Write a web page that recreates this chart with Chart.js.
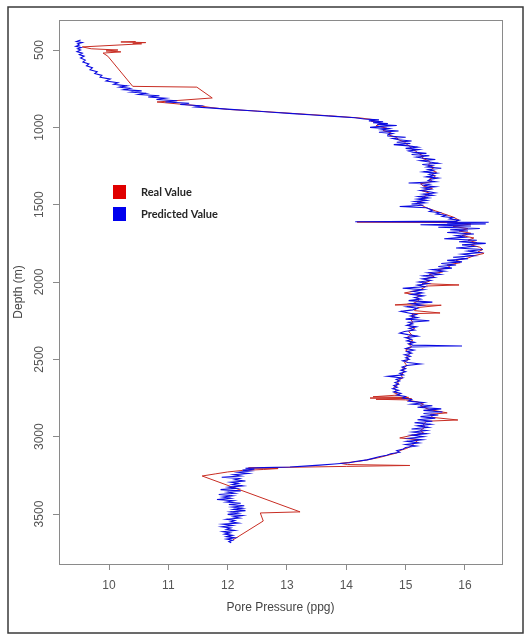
<!DOCTYPE html>
<html><head><meta charset="utf-8">
<script src="https://cdn.jsdelivr.net/npm/chart.js@4.4.1/dist/chart.umd.min.js"></script>
<style>html,body{margin:0;padding:0;background:#fff;}canvas{display:block;}</style>
</head><body>
<canvas id="c" width="530" height="635" style="width:530px;height:635px"></canvas>
<script>
// ---- data ----
const seriesLabels = ['Real Value', 'Predicted Value'];
const xTickValues = [10, 11, 12, 13, 14, 15, 16];
const yTickValues = [500, 1000, 1500, 2000, 2500, 3000, 3500];
const xTitle = 'Pore Pressure (ppg)';
const yTitle = 'Depth (m)';

const predDepth = [
 435,445,452,460,468,476,484,492,500,510,
 520,530,540,552,565,578,590,602,615,628,
 640,652,664,676,688,700,712,722,732,740,
 748,756,764,772,780,788,796,804,812,820,
 828,836,844,852,860,868,876,884,893,902,
 911,920,929,938,946,952,958,964,970,976,
 982,988,994,1000,1008,1016,1024,1032,1040,1048,
 1056,1064,1072,1080,1088,1096,1104,1112,1120,1128,
 1136,1144,1152,1160,1168,1176,1184,1192,1200,1208,
 1216,1224,1232,1240,1248,1256,1264,1272,1280,1288,
 1296,1304,1312,1320,1328,1336,1344,1352,1360,1368,
 1376,1384,1392,1400,1408,1416,1424,1432,1440,1448,
 1456,1464,1472,1480,1488,1496,1504,1512,1520,1528,
 1536,1544,1552,1560,1568,1576,1584,1592,1600,1606,
 1610,1614,1618,1624,1630,1638,1646,1654,1662,1670,
 1680,1690,1700,1710,1720,1730,1740,1750,1760,1770,
 1780,1790,1800,1810,1820,1830,1840,1850,1860,1870,
 1880,1890,1900,1910,1920,1930,1940,1950,1960,1970,
 1980,1990,2000,2010,2020,2030,2040,2050,2060,2070,
 2080,2090,2100,2110,2120,2130,2140,2150,2160,2170,
 2180,2190,2200,2210,2220,2230,2240,2250,2260,2270,
 2280,2290,2300,2310,2320,2330,2340,2350,2360,2370,
 2380,2390,2400,2408,2414,2420,2430,2440,2450,2460,
 2470,2480,2490,2500,2510,2520,2530,2540,2550,2560,
 2570,2580,2590,2600,2610,2620,2630,2640,2650,2660,
 2670,2680,2690,2700,2710,2720,2730,2740,2750,2760,
 2770,2780,2790,2800,2810,2820,2830,2840,2850,2860,
 2870,2880,2890,2900,2910,2920,2930,2940,2950,2960,
 2970,2980,2990,3000,3010,3020,3030,3040,3050,3060,
 3070,3080,3090,3100,3110,3120,3130,3140,3150,3160,
 3168,3176,3184,3190,3196,3200,3204,3210,3216,3222,
 3230,3238,3246,3254,3262,3270,3278,3286,3294,3302,
 3310,3318,3326,3334,3342,3350,3358,3366,3374,3382,
 3390,3398,3406,3414,3422,3430,3438,3446,3454,3462,
 3470,3478,3486,3494,3502,3510,3518,3526,3534,3542,
 3550,3558,3566,3574,3582,3590,3598,3606,3614,3622,
 3630,3638,3646,3654,3662,3670,3678,3686
];
const predPressure = [
 9.52,9.45,9.55,9.47,9.50,9.44,9.53,9.47,9.52,9.46,
 9.55,9.50,9.58,9.52,9.60,9.56,9.66,9.62,9.72,9.68,
 9.80,9.76,9.88,9.85,10.02,9.95,10.15,10.08,10.30,10.18,
 10.35,10.25,10.55,10.38,10.62,10.50,10.85,10.66,10.95,10.80,
 11.15,10.95,11.35,11.20,11.55,11.45,11.75,12.05,12.40,12.75,
 13.10,13.45,13.80,14.15,14.30,14.55,14.38,14.62,14.45,14.70,
 14.52,14.85,14.58,14.40,14.72,14.60,14.88,14.55,14.78,14.70,
 14.70,15.00,14.78,14.88,15.10,14.85,15.08,14.80,15.05,15.20,
 15.00,15.22,15.05,15.12,15.35,15.10,15.40,15.18,15.30,15.50,
 15.25,15.40,15.55,15.28,15.45,15.36,15.60,15.38,15.46,15.30,
 15.52,15.40,15.48,15.35,15.55,15.42,15.38,15.50,15.05,15.40,
 15.32,15.50,15.30,15.42,15.25,15.40,15.50,15.30,15.45,15.22,
 15.38,15.20,15.35,15.15,15.32,15.10,15.30,14.90,15.35,15.40,
 15.45,15.40,15.58,15.52,15.68,15.62,15.80,15.74,15.90,15.85,
 14.15,16.40,15.70,16.35,15.25,16.10,15.55,16.25,15.75,16.05,
 15.70,16.15,15.85,16.00,15.65,16.20,15.90,16.35,15.95,16.15,
 15.85,16.30,16.05,16.25,15.95,16.15,15.80,16.05,15.70,15.95,
 15.60,15.85,15.55,15.78,15.45,15.65,15.38,15.58,15.30,15.48,
 15.28,15.42,15.22,15.38,15.20,15.32,14.95,15.30,15.12,15.28,
 15.10,15.30,15.15,15.25,15.05,15.45,15.10,15.28,15.02,15.20,
 15.12,14.92,15.05,15.18,15.08,15.20,15.00,15.40,15.05,15.12,
 15.02,15.18,15.06,15.15,14.98,14.90,15.04,15.20,15.00,15.10,
 15.02,15.15,15.05,15.12,15.95,15.08,15.00,15.14,15.02,15.10,
 14.98,15.08,15.00,15.06,14.95,15.04,15.25,15.02,14.94,15.00,
 14.92,15.00,14.90,14.96,14.70,14.94,14.84,14.90,14.82,14.88,
 14.80,14.86,14.78,14.88,14.80,14.92,14.85,15.00,14.95,15.10,
 15.05,15.30,15.10,15.45,15.20,15.60,15.30,15.62,15.30,15.55,
 15.25,15.50,15.20,15.45,15.15,15.42,15.20,15.38,15.10,15.35,
 15.12,15.35,15.10,15.30,15.05,15.28,15.02,15.22,15.00,15.18,
 15.00,14.96,14.85,14.90,14.75,14.68,14.55,14.45,14.35,14.15,
 14.05,13.80,13.55,13.30,13.05,12.60,12.30,12.45,12.25,12.38,
 12.18,12.35,12.10,12.22,11.90,12.20,12.12,12.30,12.05,12.18,
 12.08,12.25,12.02,12.15,11.88,12.22,12.00,12.12,11.85,12.08,
 11.92,12.05,11.82,12.10,11.98,12.22,12.02,12.28,12.08,12.25,
 12.10,12.30,12.05,12.18,12.00,12.25,12.10,12.20,11.98,12.12,
 12.05,12.18,11.92,12.08,11.90,12.05,11.98,12.12,11.92,12.04,
 11.95,12.08,11.98,12.12,11.98,12.08,12.02,12.06
];

const realDepth = [
 445,448,452,456,460,480,492,500,506,512,
 520,540,735,740,810,836,850,860,872,884,
 895,910,925,940,950,960,975,990,1005,1020,
 1035,1050,1065,1080,1095,1110,1125,1140,1155,1170,
 1185,1200,1215,1230,1245,1260,1275,1290,1305,1320,
 1335,1350,1365,1380,1395,1410,1425,1440,1455,1470,
 1485,1500,1520,1540,1560,1580,1600,1608,1612,1616,
 1625,1640,1655,1670,1685,1700,1715,1730,1745,1760,
 1775,1790,1805,1815,1830,1845,1860,1875,1890,1905,
 1920,1935,1950,1965,1980,1995,2010,2019,2026,2050,
 2071,2085,2100,2120,2140,2148,2150,2165,2185,2200,
 2205,2220,2240,2260,2280,2300,2320,2340,2360,2380,
 2400,2420,2440,2460,2480,2500,2520,2540,2560,2580,
 2600,2620,2640,2660,2680,2700,2715,2730,2742,2746,
 2750,2754,2758,2762,2775,2790,2800,2825,2846,2855,
 2875,2892,2900,2920,2940,2960,2975,3008,3020,3040,
 3060,3075,3090,3105,3120,3135,3150,3160,3172,3180,
 3186,3192,3202,3206,3212,3218,3228,3240,3254,3486,
 3493,3545,3667
];
const realPressure = [
 10.45,10.20,10.62,10.40,10.55,9.55,9.70,10.15,9.95,10.20,
 9.90,9.98,10.40,11.48,11.74,10.81,11.20,11.50,11.72,12.00,
 12.50,13.10,13.70,14.25,14.45,14.42,14.60,14.50,14.68,14.62,
 14.75,14.72,14.85,14.88,14.98,15.02,15.08,15.10,15.18,15.22,
 15.30,15.28,15.38,15.42,15.38,15.48,15.42,15.52,15.45,15.50,
 15.40,15.45,15.25,15.30,15.45,15.28,15.40,15.35,15.28,15.32,
 15.20,15.25,15.35,15.50,15.65,15.80,15.90,15.85,14.18,15.90,
 16.10,15.80,16.05,15.90,16.10,15.95,16.15,16.05,16.20,16.10,
 16.25,16.30,16.22,16.32,16.15,16.05,15.85,15.92,15.70,15.75,
 15.55,15.62,15.40,15.48,15.32,15.40,15.28,15.90,15.35,15.25,
 14.98,15.25,15.18,15.22,15.12,14.82,15.60,15.20,15.15,15.58,
 15.10,15.15,15.08,15.12,15.05,15.15,15.05,15.10,15.02,15.12,
 15.05,15.10,15.00,15.08,15.02,15.05,14.98,15.02,14.95,14.98,
 14.92,14.95,14.86,14.88,14.80,14.84,14.80,14.90,14.45,15.05,
 14.40,15.10,14.50,15.00,15.20,15.30,15.25,15.40,15.70,15.42,
 15.45,15.88,15.35,15.30,15.32,15.25,15.30,14.90,15.22,15.15,
 15.10,15.02,14.90,14.85,14.70,14.55,14.35,14.20,13.90,14.02,
 15.07,14.00,12.35,12.85,12.60,12.25,12.00,11.80,11.57,13.22,
 12.55,12.60,12.09
];

// ---- chart ----
const realPoints = realDepth.map((d, i) => ({ x: realPressure[i], y: d }));
const predPoints = predDepth.map((d, i) => ({ x: predPressure[i], y: d }));
const legendColors = ['#e00000', '#0000ee'];
const axisFont = { family: 'Liberation Sans, Arial, sans-serif', size: 12 };

const decorPlugin = {
  id: 'decor',
  afterDraw(chart) {
    const ctx = chart.ctx;
    const a = chart.chartArea;
    ctx.save();
    ctx.strokeStyle = '#8a8a8a';
    ctx.lineWidth = 1;
    ctx.strokeRect(Math.round(a.left) + 0.5, Math.round(a.top) + 0.5,
      Math.round(a.right - a.left), Math.round(a.bottom - a.top));
    ctx.strokeStyle = '#3a3a3a';
    ctx.lineWidth = 1.5;
    ctx.strokeRect(8, 7, 515, 626);
    const lx = a.left + 54, ly = 185;
    ctx.font = 'bold 11px Lato, "Open Sans", sans-serif';
    ctx.textBaseline = 'middle';
    ctx.textAlign = 'left';
    seriesLabels.forEach((lab, i) => {
      const y = ly + i * 22;
      ctx.fillStyle = legendColors[i];
      ctx.fillRect(lx, y, 13, 14);
      ctx.fillStyle = '#262626';
      ctx.fillText(lab, lx + 28, y + 7.5);
    });
    ctx.restore();
  }
};

new Chart(document.getElementById('c'), {
  type: 'scatter',
  data: {
    datasets: [
      { label: seriesLabels[0], data: realPoints, showLine: true, pointRadius: 0,
        borderColor: 'rgb(200,45,35)', borderWidth: 1, order: 2, tension: 0 },
      { label: seriesLabels[1], data: predPoints, showLine: true, pointRadius: 0,
        borderColor: 'rgb(10,10,225)', borderWidth: 1.1, order: 1, tension: 0 }
    ]
  },
  options: {
    responsive: false,
    animation: false,
    devicePixelRatio: 1,
    layout: { padding: { top: 20, right: 28, left: 0, bottom: 0 } },
    plugins: { legend: { display: false }, tooltip: { enabled: false } },
    scales: {
      x: {
        type: 'linear', min: 9.157, max: 16.624,
        afterBuildTicks: s => { s.ticks = xTickValues.map(v => ({ value: v })); },
        afterFit: s => { s.height = 71; },
        grid: { display: true, drawOnChartArea: false, drawTicks: true, tickLength: 6, color: '#8a8a8a' },
        border: { display: false },
        ticks: { font: axisFont, color: '#555', padding: 8, maxRotation: 0, autoSkip: false,
          callback: v => String(v) },
        title: { display: true, text: xTitle, font: axisFont, color: '#444', padding: { top: 0, bottom: 20 } }
      },
      y: {
        type: 'linear', reverse: true, min: 306, max: 3823,
        afterBuildTicks: s => { s.ticks = yTickValues.map(v => ({ value: v })); },
        afterFit: s => { s.width = 59; },
        grid: { display: true, drawOnChartArea: false, drawTicks: true, tickLength: 6, color: '#8a8a8a' },
        border: { display: false },
        ticks: { font: axisFont, color: '#555', padding: 0, minRotation: 90, maxRotation: 90,
          crossAlign: 'center', autoSkip: false, callback: v => String(v) },
        title: { display: true, text: yTitle, font: axisFont, color: '#444', padding: { top: 11, bottom: 0 } }
      }
    }
  },
  plugins: [decorPlugin]
});
</script>
</body></html>
